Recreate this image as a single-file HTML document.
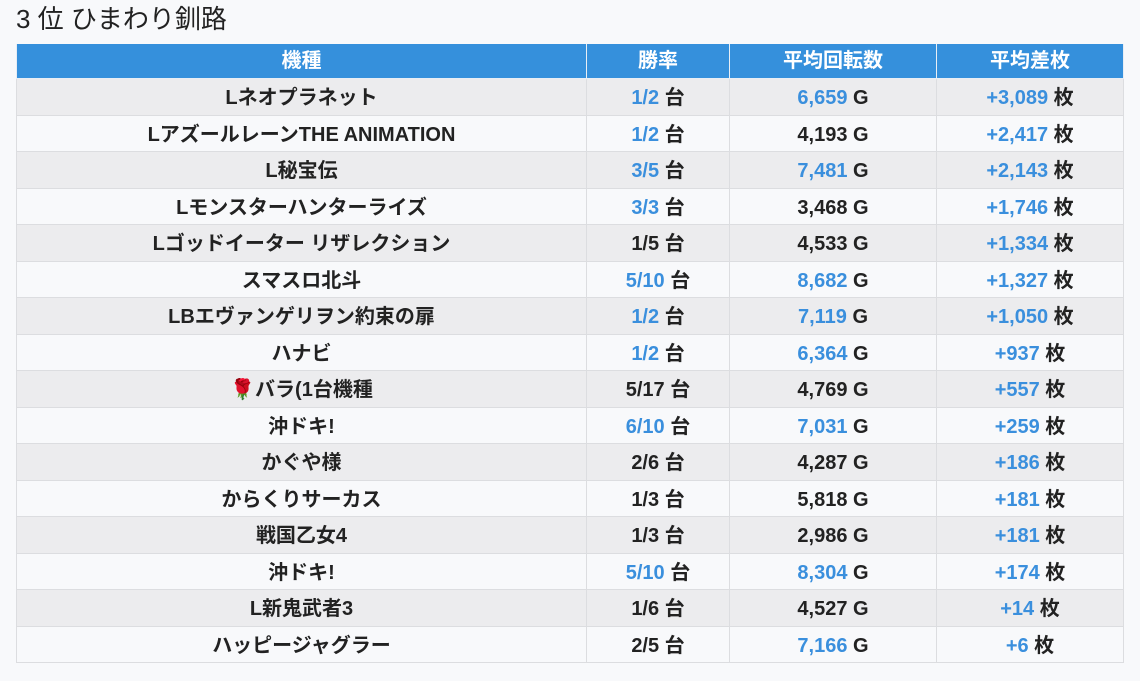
<!DOCTYPE html>
<html><head><meta charset="utf-8"><style>
body{margin:0;width:1140px;height:681px;background:#f8f9fb;font-family:"Liberation Sans","Noto Sans CJK JP",sans-serif;overflow:hidden;position:relative}
h1{position:absolute;left:16px;top:2px;margin:0;font-weight:normal;font-size:26px;line-height:34px;color:#222}
.row{position:absolute;left:16px;width:1108px;height:36.5px;display:flex;font-size:20px;font-weight:bold;color:#222;box-sizing:border-box}
.row > div{box-sizing:border-box;display:block;text-align:center;line-height:38px;height:36.5px;border-right:1px solid #dcdde0;border-bottom:1px solid #dcdde0;white-space:pre;overflow:hidden}
.row > div:first-child{border-left:1px solid #dcdde0}
.c1{width:571px}.c2{width:143px}.c3{width:207px}.c4{width:187px}
.hd{background:#3590dc;color:#fff;height:35px}
.hd > div{border-color:#e8eef5!important;line-height:34px;height:35px}
.o{background:#ececee}.e{background:#f8f9fb}
.b{color:#3a8fdd}
</style></head><body>
<h1>3 位 ひまわり釧路</h1>
<div class="row hd" style="top:44px"><div class="c1">機種</div><div class="c2">勝率</div><div class="c3">平均回転数</div><div class="c4">平均差枚</div></div>
<div id="t"></div>
<script>
var d=[
["Lネオプラネット","1/2",1,"6,659",1,"+3,089"],
["LアズールレーンTHE ANIMATION","1/2",1,"4,193",0,"+2,417"],
["L秘宝伝","3/5",1,"7,481",1,"+2,143"],
["Lモンスターハンターライズ","3/3",1,"3,468",0,"+1,746"],
["Lゴッドイーター リザレクション","1/5",0,"4,533",0,"+1,334"],
["スマスロ北斗","5/10",1,"8,682",1,"+1,327"],
["LBエヴァンゲリヲン約束の扉","1/2",1,"7,119",1,"+1,050"],
["ハナビ","1/2",1,"6,364",1,"+937"],
["🌹バラ(1台機種","5/17",0,"4,769",0,"+557"],
["沖ドキ!","6/10",1,"7,031",1,"+259"],
["かぐや様","2/6",0,"4,287",0,"+186"],
["からくりサーカス","1/3",0,"5,818",0,"+181"],
["戦国乙女4","1/3",0,"2,986",0,"+181"],
["沖ドキ!","5/10",1,"8,304",1,"+174"],
["L新鬼武者3","1/6",0,"4,527",0,"+14"],
["ハッピージャグラー","2/5",0,"7,166",1,"+6"]];
var h="";
d.forEach(function(r,i){
var top=79+i*36.5;
h+='<div class="row '+(i%2?'e':'o')+'" style="top:'+top+'px"><div class="c1">'+r[0]+'</div><div class="c2"><span class="'+(r[2]?'b':'')+'">'+r[1]+'</span> 台</div><div class="c3"><span class="'+(r[4]?'b':'')+'">'+r[3]+'</span> G</div><div class="c4"><span class="b">'+r[5]+'</span> 枚</div></div>';
});
document.getElementById('t').innerHTML=h;
</script>
</body></html>
